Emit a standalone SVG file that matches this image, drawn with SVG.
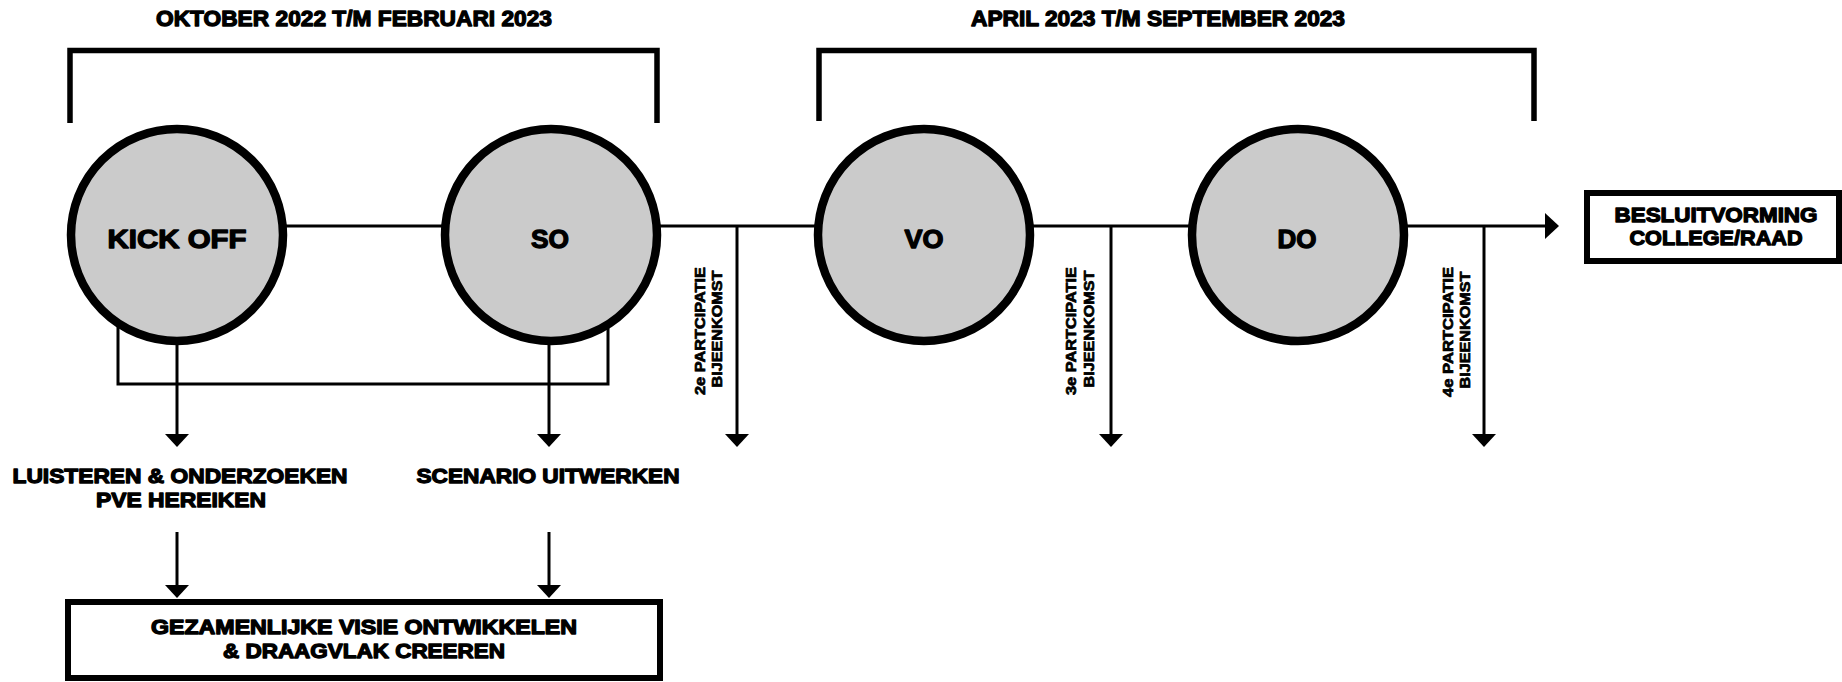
<svg xmlns="http://www.w3.org/2000/svg" width="1842" height="682" viewBox="0 0 1842 682">
<style>
.t{font-family:"Liberation Sans",Arial,sans-serif;font-weight:bold;fill:#000;text-anchor:middle;stroke:#000;stroke-width:1.3;stroke-linejoin:round}
.s{stroke-width:0.7}
.circ{fill:#cbcbcb;stroke:#000;stroke-width:8.5}
.br{fill:none;stroke:#000;stroke-width:5.5}
.ln{fill:none;stroke:#000;stroke-width:3}
.box{fill:#fff;stroke:#000;stroke-width:6}
.ah{fill:#000}
</style>
<rect width="1842" height="682" fill="#fff"/>
<g id="period1">
<text class="t" x="354" y="26" font-size="22" textLength="396" lengthAdjust="spacingAndGlyphs">OKTOBER 2022 T/M FEBRUARI 2023</text>
<path class="br" d="M70,123 V50.5 H657 V123"/>
</g>
<g id="period2">
<text class="t" x="1158" y="26" font-size="22" textLength="374" lengthAdjust="spacingAndGlyphs">APRIL 2023 T/M SEPTEMBER 2023</text>
<path class="br" d="M819,121 V50.5 H1534 V121"/>
</g>
<g id="connectors">
<path class="ln" d="M285,226 H443"/>
<path class="ln" d="M659,226 H816"/>
<path class="ln" d="M1032,226 H1190"/>
<path class="ln" d="M1406,226 H1546"/>
<polygon class="ah" points="1545,213 1559,226 1545,239"/>
<path class="ln" d="M118,326 V384 H608 V327"/>
<path class="ln" d="M177,343 V436"/>
<polygon class="ah" points="165,434 189,434 177,447"/>
<path class="ln" d="M549,343 V436"/>
<polygon class="ah" points="537,434 561,434 549,447"/>
<path class="ln" d="M177,532 V587"/>
<polygon class="ah" points="165,585 189,585 177,598"/>
<path class="ln" d="M549,532 V587"/>
<polygon class="ah" points="537,585 561,585 549,598"/>
<path class="ln" d="M737,226 V436"/>
<polygon class="ah" points="725,434 749,434 737,447"/>
<path class="ln" d="M1111,226 V436"/>
<polygon class="ah" points="1099,434 1123,434 1111,447"/>
<path class="ln" d="M1484,226 V436"/>
<polygon class="ah" points="1472,434 1496,434 1484,447"/>
</g>
<g id="kickoff">
<circle class="circ" cx="177" cy="235" r="106"/>
<text class="t" x="177" y="248" font-size="26" textLength="139" lengthAdjust="spacingAndGlyphs">KICK OFF</text>
</g>
<g id="so">
<circle class="circ" cx="551" cy="235" r="106"/>
<text class="t" x="550" y="248" font-size="26" textLength="38" lengthAdjust="spacingAndGlyphs">SO</text>
</g>
<g id="vo">
<circle class="circ" cx="924" cy="235" r="106"/>
<text class="t" x="924" y="248" font-size="26" textLength="39" lengthAdjust="spacingAndGlyphs">VO</text>
</g>
<g id="do">
<circle class="circ" cx="1298" cy="235" r="106"/>
<text class="t" x="1297" y="248" font-size="26" textLength="39" lengthAdjust="spacingAndGlyphs">DO</text>
</g>
<g id="luisteren">
<text class="t" x="180" y="483" font-size="21" textLength="335" lengthAdjust="spacingAndGlyphs">LUISTEREN &amp; ONDERZOEKEN</text>
<text class="t" x="181" y="507" font-size="21" textLength="170" lengthAdjust="spacingAndGlyphs">PVE HEREIKEN</text>
</g>
<g id="scenario">
<text class="t" x="548" y="483" font-size="21" textLength="263" lengthAdjust="spacingAndGlyphs">SCENARIO UITWERKEN</text>
</g>
<g id="visie">
<rect class="box" x="68" y="602" width="592" height="76"/>
<text class="t" x="364" y="634" font-size="20" textLength="426" lengthAdjust="spacingAndGlyphs">GEZAMENLIJKE VISIE ONTWIKKELEN</text>
<text class="t" x="364" y="658" font-size="20" textLength="282" lengthAdjust="spacingAndGlyphs">&amp; DRAAGVLAK CREEREN</text>
</g>
<g id="besluitvorming">
<rect class="box" x="1587" y="193" width="252" height="68"/>
<text class="t" x="1716" y="222" font-size="21" textLength="203" lengthAdjust="spacingAndGlyphs">BESLUITVORMING</text>
<text class="t" x="1716" y="245" font-size="21" textLength="173" lengthAdjust="spacingAndGlyphs">COLLEGE/RAAD</text>
</g>
<g id="participatie2">
<text class="t s" font-size="14" transform="translate(705,331) rotate(-90)" textLength="128" lengthAdjust="spacingAndGlyphs">2e PARTCIPATIE</text>
<text class="t s" font-size="14" transform="translate(722,329) rotate(-90)" textLength="117" lengthAdjust="spacingAndGlyphs">BIJEENKOMST</text>
</g>
<g id="participatie3">
<text class="t s" font-size="14" transform="translate(1076,331) rotate(-90)" textLength="128" lengthAdjust="spacingAndGlyphs">3e PARTCIPATIE</text>
<text class="t s" font-size="14" transform="translate(1094,329) rotate(-90)" textLength="117" lengthAdjust="spacingAndGlyphs">BIJEENKOMST</text>
</g>
<g id="participatie4">
<text class="t s" font-size="14" transform="translate(1453,332) rotate(-90)" textLength="130" lengthAdjust="spacingAndGlyphs">4e PARTCIPATIE</text>
<text class="t s" font-size="14" transform="translate(1470,330) rotate(-90)" textLength="117" lengthAdjust="spacingAndGlyphs">BIJEENKOMST</text>
</g>
</svg>
